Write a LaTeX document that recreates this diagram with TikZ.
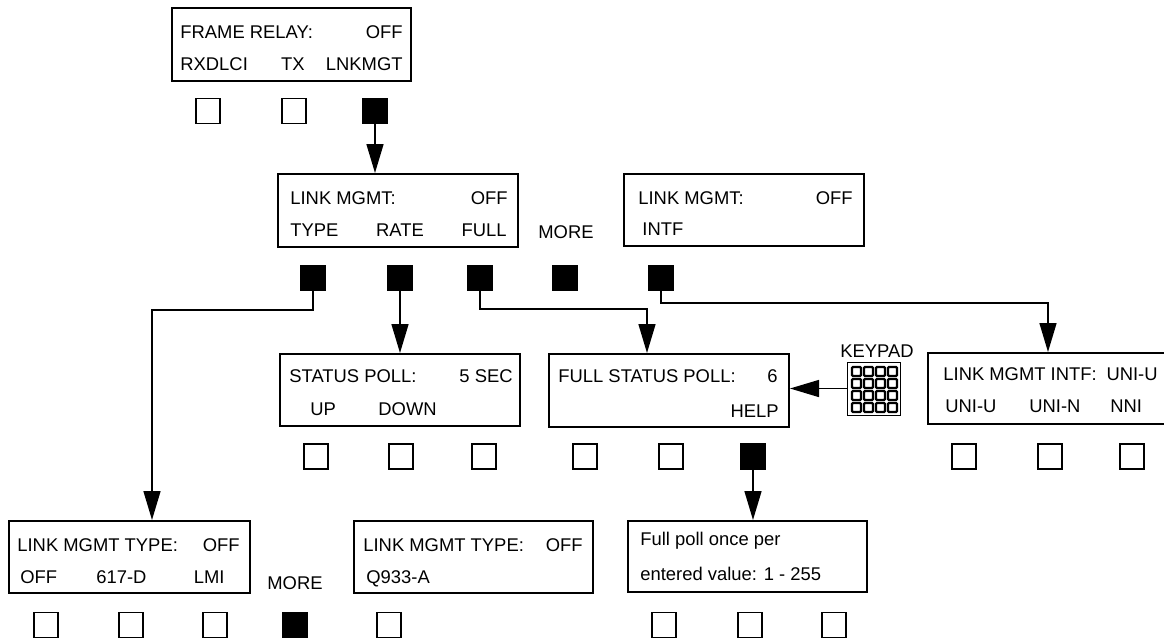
\documentclass[tikz,border=0pt]{standalone}
\usepackage{fontspec}
\setmainfont{Liberation Sans}
\usetikzlibrary{arrows.meta}
\newcommand\dispfont{\fontsize{9.2}{11}\selectfont}
\begin{document}
\begin{tikzpicture}[x=0.5pt,y=-0.5pt,
  disp/.style={draw, line width=1pt, anchor=north west, inner sep=0pt,
               minimum width=120pt, minimum height=36.5pt},
  btn/.style={draw, line width=0.9pt, inner sep=0pt, minimum width=12pt, minimum height=12.5pt},
  btnon/.style={btn, fill=black},
  txt/.style={inner sep=0pt, font=\dispfont},
  tw/.style={txt, anchor=base west},
  te/.style={txt, anchor=base east},
  tc/.style={txt, anchor=base},
  conn/.style={line width=0.75pt, -{Triangle[length=14.5pt,width=8.5pt]}},
  key/.style={draw, line width=1.1pt, rounded corners=0.5pt}]
\useasboundingbox (0,0) rectangle (1164,638);
\clip (0,0) rectangle (1164,638);

% ---------- FRAME RELAY ----------
\node[disp, minimum width=119.5pt] (fr) at (171,7) {};
\node[tw] (fr-t1) at (180,38) {FRAME RELAY:};
\node[te] (fr-t2) at (403,38) {OFF};
\node[tw] (fr-t3) at (180,70) {RXDLCI};
\node[tc] (fr-t4) at (293,70) {TX};
\node[te] (fr-t5) at (403,70) {LNKMGT};
\node[btn]   (fr-b1) at (208,111) {};
\node[btn]   (fr-b2) at (294,111) {};
\node[btnon] (fr-b3) at (375,111) {};

% ---------- LINK MGMT ----------
\node[disp] (lm) at (277,173) {};
\node[tw] (lm-t1) at (290,204) {LINK MGMT:};
\node[te] (lm-t2) at (508,204) {OFF};
\node[tw] (lm-t3) at (290,236) {TYPE};
\node[tc] (lm-t4) at (400,236) {RATE};
\node[te] (lm-t5) at (507,236) {FULL};
\node[tc] (more1) at (566,238) {MORE};

\node[disp, minimum height=36pt] (lm2) at (623,173) {};
\node[tw] (lm2-t1) at (638,204) {LINK MGMT:};
\node[te] (lm2-t2) at (853,204) {OFF};
\node[tw] (lm2-t3) at (642,235) {INTF};

\node[btnon] (lm-b1) at (313,278) {};
\node[btnon] (lm-b2) at (400,278) {};
\node[btnon] (lm-b3) at (480,278) {};
\node[btnon] (lm-b4) at (565,278) {};
\node[btnon] (lm2-b) at (661,278) {};

% ---------- STATUS POLL ----------
\node[disp, minimum height=36pt] (sp) at (279,353) {};
\node[tw] (sp-t1) at (289,382) {STATUS POLL:};
\node[te] (sp-t2) at (513,382) {5 SEC};
\node[tw] (sp-t3) at (310,415) {UP};
\node[tw] (sp-t4) at (378,415) {DOWN};
\node[btn] (sp-b1) at (316,456.5) {};
\node[btn] (sp-b2) at (401,456.5) {};
\node[btn] (sp-b3) at (484,456.5) {};

% ---------- FULL STATUS POLL ----------
\node[disp] (fsp) at (548,353) {};
\node[tw] (fsp-t1) at (558,382) {FULL STATUS POLL:};
\node[te] (fsp-t2) at (778,382) {6};
\node[te] (fsp-t3) at (779,417) {HELP};
\node[btn]   (fsp-b1) at (585,456.5) {};
\node[btn]   (fsp-b2) at (671,456.5) {};
\node[btnon] (fsp-b3) at (753,456.5) {};

% ---------- KEYPAD ----------
\node[draw, line width=0.5pt, inner sep=0pt, minimum width=26.5pt, minimum height=26.5pt] (kp) at (873.5,388.5) {};
\node[tc] (kp-t) at (877,357) {KEYPAD};
\foreach \i in {0,1,2,3}{
  \foreach \j in {0,1,2,3}{
    \draw[key] (852+12*\i,367+12*\j) rectangle ++(9,9);
  }
}

% ---------- LINK MGMT INTF ----------
\node[disp, minimum width=125pt, minimum height=35.5pt] (intf) at (927,352) {};
\node[tw] (intf-t1) at (943,380) {LINK MGMT INTF:};
\node[te] (intf-t2) at (1158,380) {UNI-U};
\node[tw] (intf-t3) at (945,412) {UNI-U};
\node[tw] (intf-t4) at (1029,412) {UNI-N};
\node[tw] (intf-t5) at (1110,412) {NNI};
\node[btn] (intf-b1) at (964,456.5) {};
\node[btn] (intf-b2) at (1050,456.5) {};
\node[btn] (intf-b3) at (1132,456.5) {};

% ---------- LINK MGMT TYPE ----------
\node[disp, minimum width=120.5pt, minimum height=36pt] (lmt) at (8,520) {};
\node[tw] (lmt-t1) at (17,551) {LINK MGMT TYPE:};
\node[te] (lmt-t2) at (240,551) {OFF};
\node[tw] (lmt-t3) at (20,583) {OFF};
\node[tw] (lmt-t4) at (96,583) {617-D};
\node[te] (lmt-t5) at (225,583) {LMI};
\node[tc] (more2) at (295,589) {MORE};
\node[btn]   (lmt-b1) at (46,625) {};
\node[btn]   (lmt-b2) at (131,625) {};
\node[btn]   (lmt-b3) at (215,625) {};
\node[btnon] (lmt-b4) at (295,625) {};

\node[disp, minimum width=119.5pt, minimum height=36pt] (q9) at (353,520) {};
\node[tw] (q9-t1) at (363,551) {LINK MGMT TYPE:};
\node[te] (q9-t2) at (583,551) {OFF};
\node[tw] (q9-t3) at (366,583) {Q933-A};
\node[btn] (q9-b1) at (389,625) {};

% ---------- FULL POLL HELP ----------
\node[disp, minimum width=119.5pt, minimum height=35.5pt] (fp) at (627,520) {};
\node[tw] (fp-t1) at (640,545) {Full poll once per};
\node[tw] (fp-t2) at (640,580) {entered value: 1 - 255};
\node[btn] (fp-b1) at (664,625) {};
\node[btn] (fp-b2) at (750,625) {};
\node[btn] (fp-b3) at (834,625) {};

% ---------- connectors ----------
\coordinate (j1) at (152,310);
\coordinate (j2) at (647,309);
\coordinate (j3) at (1048,303);
\draw[conn] (fr-b3.south) -- (fr-b3.south |- lm.north);
\draw[conn] (lm-b1.south) |- (j1) -- (j1 |- lmt.north);
\draw[conn] (lm-b2.south) -- (lm-b2.south |- sp.north);
\draw[conn] (lm-b3.south) |- (j2) -- (j2 |- fsp.north);
\draw[conn] (lm2-b.south) |- (j3) -- (j3 |- intf.north);
\draw[conn] (fsp-b3.south) -- (fsp-b3.south |- fp.north);
\draw[conn] (kp.west) -- (kp.west -| fsp.east);
\end{tikzpicture}
\end{document}
